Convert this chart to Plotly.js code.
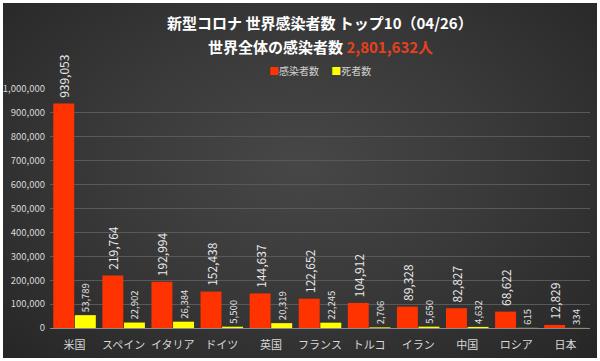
<!DOCTYPE html>
<html>
<head>
<meta charset="utf-8">
<script src="https://cdn.plot.ly/plotly-3.0.1.min.js"></script>
<style>
  html, body { margin: 0; padding: 0; background: #ffffff; width: 600px; height: 361px; overflow: hidden; }
  #chart {
    position: absolute; left: 3px; top: 3px; width: 594px; height: 355px;
    background: radial-gradient(ellipse at 50% 45%, #474747 0%, #3a3a3a 45%, #262626 100%);
  }
</style>
</head>
<body>
<div id="chart"></div>
<script>
const countries = ["米国", "スペイン", "イタリア", "ドイツ", "英国", "フランス", "トルコ", "イラン", "中国", "ロシア", "日本"];
const infected = [939053, 219764, 192994, 152438, 144637, 122652, 104912, 89328, 82827, 68622, 12829];
const deaths = [53789, 22902, 26384, 5500, 20319, 22245, 2706, 5650, 4632, 615, 334];
const yTicks = [0, 100000, 200000, 300000, 400000, 500000, 600000, 700000, 800000, 900000, 1000000];
const yTickText = ["0", "100,000", "200,000", "300,000", "400,000", "500,000", "600,000", "700,000", "800,000", "900,000", "1,000,000"];
const titleLine1 = "新型コロナ 世界感染者数 トップ10（04/26）";
const titleLine2 = "世界全体の感染者数";
const worldTotal = "2,801,632人";
const seriesNames = ["感染者数", "死者数"];

const FONT = "'Noto Sans CJK JP', 'Noto Sans', sans-serif";
const RED = "#ff3300";
const YELLOW = "#ffff00";

const traces = [
  {
    type: "bar", name: seriesNames[0], x: countries, y: infected,
    marker: { color: RED },
    texttemplate: "\u00a0%{y:,}", textposition: "outside", textangle: -90,
    constraintext: "none", cliponaxis: false,
    textfont: { family: FONT, size: 12, color: "#e8e8e8" },
    hoverinfo: "skip"
  },
  {
    type: "bar", name: seriesNames[1], x: countries, y: deaths,
    marker: { color: YELLOW },
    texttemplate: "%{y:,}", textposition: "outside", textangle: -90,
    constraintext: "none", cliponaxis: false,
    textfont: { family: FONT, size: 9.5, color: "#e0e0e0" },
    hoverinfo: "skip"
  }
];

const layout = {
  width: 594, height: 355,
  margin: { l: 47, r: 7, t: 86, b: 30, pad: 0 },
  paper_bgcolor: "rgba(0,0,0,0)",
  plot_bgcolor: "rgba(0,0,0,0)",
  showlegend: false,
  barmode: "group",
  bargap: 0.12,
  bargroupgap: 0.03,
  font: { family: FONT, color: "#d9d9d9" },
  xaxis: {
    type: "category",
    range: [-0.5, 10.5],
    showgrid: false,
    showline: false,
    ticks: "",
    ticklabelstandoff: 9,
    tickfont: { family: FONT, size: 11, color: "#d9d9d9" }
  },
  yaxis: {
    range: [0, 1000000],
    tickvals: yTicks,
    ticktext: yTickText,
    showgrid: true,
    gridcolor: "#595959",
    gridwidth: 1,
    zeroline: true,
    zerolinecolor: "#8a8a8a",
    zerolinewidth: 1,
    showline: false,
    ticks: "",
    ticklabelstandoff: 4,
    tickfont: { family: FONT, size: 9.5, color: "#d9d9d9" }
  },
  annotations: [
    {
      xref: "paper", yref: "paper", x: 0.5, y: 1.280, xanchor: "center", yanchor: "middle",
      showarrow: false, text: "<b>" + titleLine1 + "</b>",
      font: { family: FONT, size: 15, color: "#ffffff" }
    },
    {
      xref: "paper", yref: "paper", x: 0.5, y: 1.176, xanchor: "center", yanchor: "middle",
      showarrow: false,
      text: "<b>" + titleLine2 + " <span style='color:#e8401c'>" + worldTotal + "</span></b>",
      font: { family: FONT, size: 15, color: "#ffffff" }
    },
    {
      xref: "paper", yref: "paper", x: 0.5, y: 1.079, xanchor: "center", yanchor: "middle",
      showarrow: false,
      text: "<span style='color:" + RED + "'>■</span>" + seriesNames[0] + "　 <span style='color:" + YELLOW + "'>■</span>" + seriesNames[1],
      font: { family: FONT, size: 10, color: "#d0d0d0" }
    }
  ]
};

Plotly.newPlot("chart", traces, layout, { displayModeBar: false, staticPlot: true });
</script>
</body>
</html>
